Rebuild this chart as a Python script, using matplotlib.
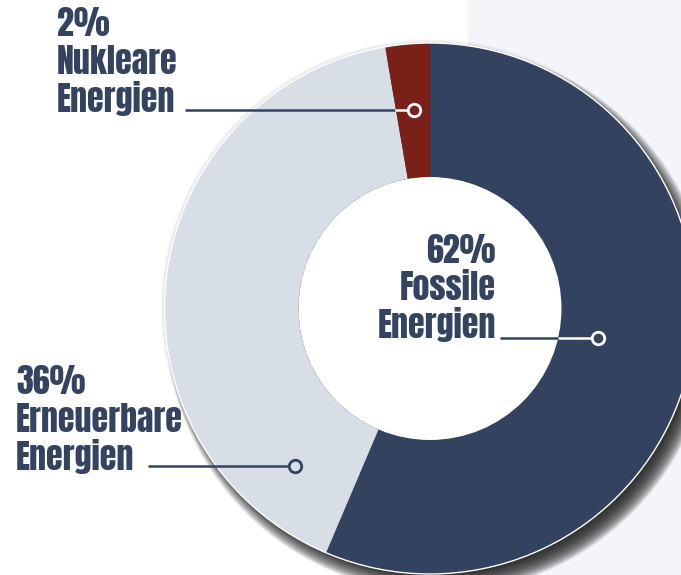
import matplotlib
matplotlib.use("Agg")
import matplotlib.pyplot as plt
from matplotlib.patches import Circle, Rectangle

# ---- data ----
categories = ["Fossile Energien", "Erneuerbare Energien", "Nukleare Energien"]
shares = [56.4, 40.9, 2.7]          # drawn slice sizes
pct_labels = ["62%", "36%", "2%"]   # label texts as printed
colors = ["#33435f", "#d8dee6", "#7a2019"]

TEXT = "#34435f"
W, H = 681, 575
fig = plt.figure(figsize=(W / 100, H / 100), dpi=100)
ax = fig.add_axes([0, 0, 1, 1])

def Y(y):  # convert from top-origin pixel to axes coords
    return H - y

cx, cy = 430, Y(308.5)
R, r = 265.5, 131.5

wedges, _ = ax.pie(shares, colors=colors, startangle=90, counterclock=False,
                   center=(cx, cy), radius=R,
                   wedgeprops=dict(width=R - r, linewidth=0))
ax.set_xlim(0, W)
ax.set_ylim(0, H)
ax.set_aspect("equal")
ax.axis("off")
for w in wedges:
    w.set_zorder(2)

# background: white left, light gray right
ax.add_patch(Rectangle((468, 0), W - 468, H, color="#f3f5f8", zorder=0))

# soft shadow
n = 18
for i in range(n):
    rad = R + 8 - i * 1.0
    ax.add_patch(Circle((cx + 9, cy - 11), rad, color="#222222", alpha=0.10,
                        lw=0, zorder=1))
# faint halo all around
for i in range(6):
    ax.add_patch(Circle((cx, cy), R + 4 - i * 0.7, color="#000000", alpha=0.02,
                        lw=0, zorder=1))

ax.add_patch(Circle((cx, cy), R, fill=False, ec="white", lw=1.0, zorder=3))
ax.add_patch(Circle((cx, cy), r, color="white", lw=0, zorder=2.5))

font = dict(family=["Anton", "DejaVu Sans"], fontsize=24.5,
            color=TEXT, zorder=5)

def label(lines, x, baselines, ha):
    for t, b in zip(lines, baselines):
        ax.text(x, Y(b), t, ha=ha, va="baseline", **font)

label([pct_labels[2], "Nukleare", "Energien"], 57, [36, 73.5, 112], "left")
label([pct_labels[0], "Fossile", "Energien"], 496, [263, 300.5, 338], "right")
label([pct_labels[1], "Erneuerbare", "Energien"], 16, [394, 432, 469.5], "left")

lw = 1.8
ms = 9
def leader(y, segs, mx, mcol, mface):
    for x0, x1, c in segs:
        ax.plot([x0, x1], [Y(y), Y(y)], color=c, lw=lw, solid_capstyle="butt", zorder=6)
    ax.plot([mx], [Y(y)], "o", ms=ms, mfc=mface, mec=mcol, mew=2.0, zorder=7)

leader(110, [(185, 395, TEXT), (395, 410, "white")], 414, "white", colors[2])
leader(338, [(500, 558, TEXT), (558, 594, "white")], 598, "white", colors[0])
leader(466, [(148, 291, TEXT)], 295, TEXT, colors[1])

fig.savefig("out.png", dpi=100)
